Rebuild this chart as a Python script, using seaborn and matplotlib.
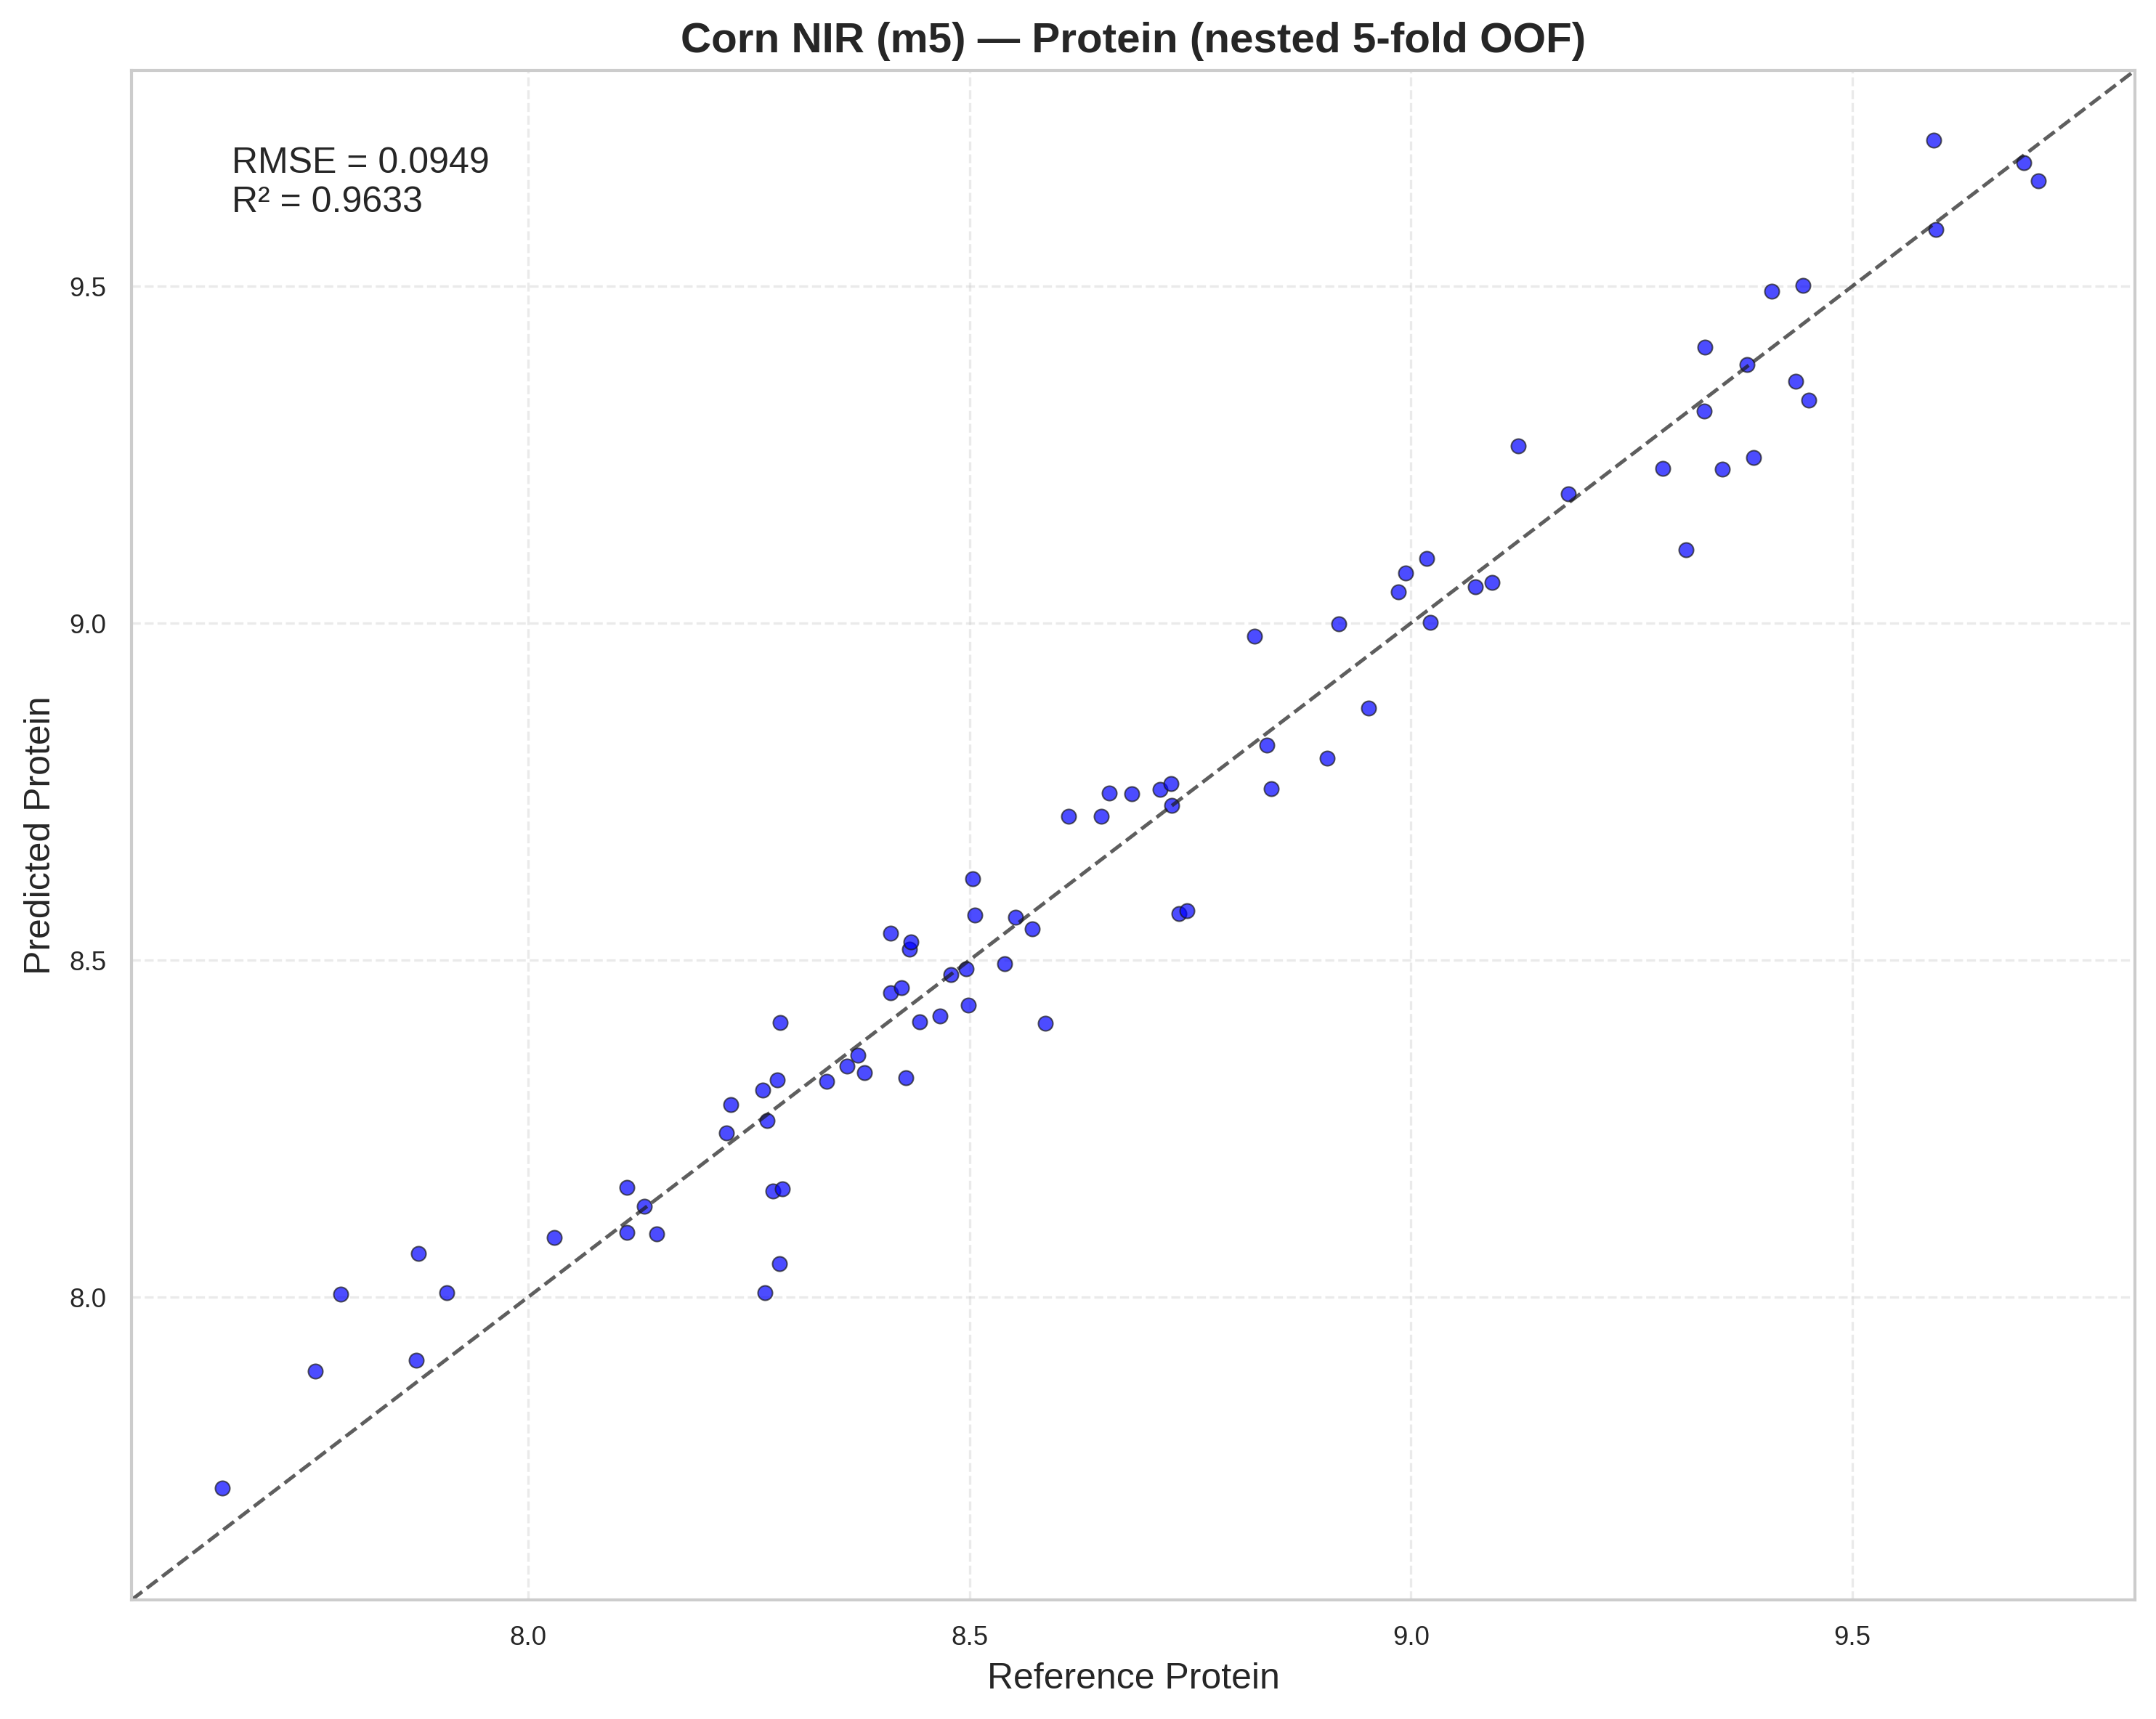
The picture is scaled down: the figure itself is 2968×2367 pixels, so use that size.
import numpy as np
import pandas as pd
import matplotlib
matplotlib.use('Agg')
import matplotlib.pyplot as plt
import seaborn as sns

# reference vs out-of-fold predicted protein
y_ref = [7.654, 7.759, 7.788, 7.873, 7.876, 7.908, 8.030, 8.112, 8.112, 8.132,
         8.146, 8.225, 8.230, 8.266, 8.271, 8.268, 8.277, 8.288, 8.285, 8.282,
         8.286, 8.338, 8.361, 8.374, 8.381, 8.411, 8.411, 8.423, 8.428, 8.432,
         8.434, 8.444, 8.467, 8.479, 8.496, 8.499, 8.504, 8.506, 8.540, 8.552,
         8.571, 8.586, 8.612, 8.649, 8.658, 8.684, 8.716, 8.728, 8.729, 8.737,
         8.746, 8.823, 8.837, 8.842, 8.905, 8.918, 8.952, 8.986, 8.994, 9.018,
         9.022, 9.073, 9.092, 9.122, 9.178, 9.285, 9.312, 9.333, 9.332, 9.353,
         9.381, 9.388, 9.409, 9.436, 9.444, 9.451, 9.592, 9.595, 9.694, 9.711]
y_pred = [7.717, 7.890, 8.004, 7.906, 8.065, 8.007, 8.089, 8.163, 8.096, 8.135,
          8.094, 8.244, 8.286, 8.307, 8.262, 8.007, 8.158, 8.161, 8.050, 8.322,
          8.408, 8.320, 8.343, 8.359, 8.333, 8.540, 8.452, 8.459, 8.326, 8.516,
          8.527, 8.409, 8.417, 8.479, 8.487, 8.433, 8.621, 8.567, 8.495, 8.564,
          8.547, 8.406, 8.713, 8.713, 8.748, 8.747, 8.753, 8.762, 8.730, 8.569,
          8.573, 8.981, 8.819, 8.754, 8.800, 8.999, 8.874, 9.046, 9.075, 9.096,
          9.001, 9.054, 9.061, 9.263, 9.192, 9.230, 9.109, 9.410, 9.315, 9.229,
          9.384, 9.246, 9.493, 9.359, 9.501, 9.331, 9.717, 9.584, 9.683, 9.656]
rmse = 0.0949
r2 = 0.9633

df = pd.DataFrame({'ref': y_ref, 'pred': y_pred})

sns.set_theme(style='whitegrid', context='paper')
plt.rcParams['font.family'] = ['Liberation Sans', 'DejaVu Sans']

fig, ax = plt.subplots(figsize=(2968 / 300, 2367 / 300))
fig.subplots_adjust(left=0.061, right=0.9902, top=0.959, bottom=0.0693)

sns.scatterplot(data=df, x='ref', y='pred', ax=ax, color='blue', alpha=0.7,
                s=23, edgecolor='k', linewidth=0.5)

# 1:1 line across the padded range
lo = min(df['ref'].min(), df['pred'].min())
hi = max(df['ref'].max(), df['pred'].max())
pad = 0.05 * (hi - lo)
lims = [lo - pad, hi + pad]
ax.plot(lims, lims, 'k--', lw=1.2, alpha=0.7)
ax.set_xlim(lims)
ax.set_ylim(lims)

ax.grid(True, linestyle='--', alpha=0.4)
ax.text(0.05, 0.95, f'RMSE = {rmse:.4f}\nR\u00b2 = {r2:.4f}', transform=ax.transAxes,
        fontsize=12, va='top')
ax.set_xlabel('Reference Protein', fontsize=12)
ax.set_ylabel('Predicted Protein', fontsize=12)
ax.set_title('Corn NIR (m5) \u2014 Protein (nested 5-fold OOF)', fontsize=14, fontweight='bold')

fig.savefig('out.png', dpi=300)
